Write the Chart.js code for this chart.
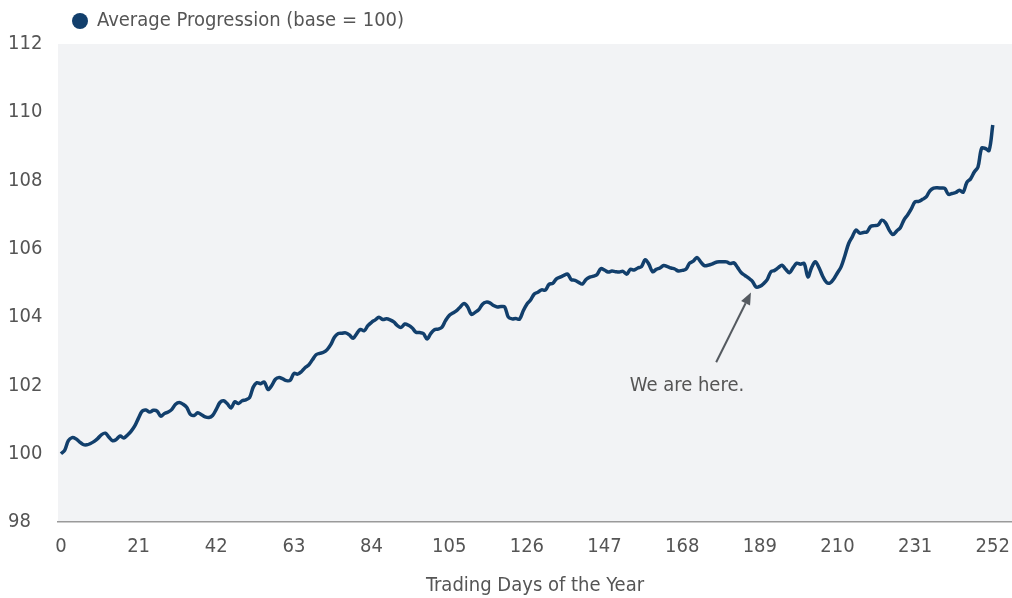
<!DOCTYPE html>
<html><head><meta charset="utf-8">
<script src="https://cdn.jsdelivr.net/npm/chart.js@4.4.1/dist/chart.umd.min.js"></script>
<style>html,body{margin:0;padding:0;background:#fff}#wrap{width:1012px;height:598px;position:relative}</style>
</head><body><div id="wrap"><canvas id="c" width="1012" height="598"></canvas></div>
<script>
const seriesLabel = "Average Progression (base = 100)";
const xTickLabels = [0,21,42,63,84,105,126,147,168,189,210,231,252];
const yTickLabels = [98,100,102,104,106,108,110,112];
const xTitle = "Trading Days of the Year";
const annotationText = "We are here.";
const progression = [
100.00,100.10,100.38,100.47,100.44,100.35,100.27,100.26,100.30,100.36,
100.45,100.56,100.60,100.48,100.38,100.42,100.52,100.46,100.55,100.66,
100.82,101.05,101.25,101.28,101.22,101.27,101.25,101.10,101.18,101.22,
101.30,101.45,101.50,101.45,101.36,101.15,101.12,101.20,101.14,101.08,
101.06,101.12,101.30,101.50,101.55,101.46,101.34,101.52,101.47,101.55,
101.58,101.64,101.95,102.08,102.05,102.10,101.88,102.00,102.18,102.23,
102.19,102.14,102.15,102.35,102.33,102.40,102.52,102.60,102.75,102.90,
102.94,102.97,103.05,103.20,103.42,103.52,103.53,103.54,103.48,103.38,
103.52,103.64,103.60,103.75,103.85,103.92,104.00,103.93,103.95,103.92,
103.86,103.75,103.70,103.80,103.76,103.68,103.56,103.55,103.52,103.36,
103.52,103.63,103.65,103.70,103.90,104.05,104.12,104.19,104.30,104.40,
104.30,104.08,104.14,104.22,104.38,104.44,104.42,104.34,104.30,104.31,
104.30,104.00,103.95,103.96,103.94,104.18,104.38,104.50,104.68,104.73,
104.80,104.79,104.96,104.99,105.12,105.17,105.22,105.26,105.10,105.08,
105.02,104.97,105.10,105.17,105.20,105.25,105.42,105.38,105.32,105.35,
105.33,105.32,105.34,105.26,105.40,105.38,105.44,105.48,105.68,105.55,
105.33,105.40,105.44,105.51,105.48,105.44,105.41,105.35,105.37,105.40,
105.58,105.64,105.75,105.62,105.51,105.52,105.55,105.60,105.62,105.62,
105.62,105.57,105.59,105.45,105.30,105.22,105.14,105.05,104.88,104.90,
104.98,105.10,105.33,105.37,105.45,105.52,105.40,105.30,105.45,105.58,
105.55,105.57,105.18,105.45,105.62,105.45,105.20,105.02,105.00,105.12,
105.30,105.48,105.80,106.15,106.35,106.55,106.46,106.48,106.50,106.66,
106.68,106.70,106.84,106.76,106.55,106.42,106.52,106.62,106.85,107.00,
107.18,107.38,107.39,107.45,107.52,107.70,107.78,107.79,107.78,107.77,
107.60,107.62,107.65,107.72,107.66,107.95,108.05,108.25,108.40,108.95,
108.94,108.88,109.63];
const annoTip = {x:186.6, y:104.72};
const annoTail = {x:177.2, y:102.68};
const annoTextPos = {x:169.3, y:102.0};

const FONT = '"Liberation Sans Narrow","DejaVu Sans Condensed","Roboto",sans-serif';
const TXT = '#555555';
const NAVY = '#123f6c';

const bgPlugin = {
  id:'bg',
  beforeDraw(chart){
    const {ctx, chartArea:a} = chart;
    ctx.save(); ctx.fillStyle='#f2f3f5';
    ctx.fillRect(a.left, a.top, a.right-a.left, a.bottom-a.top);
    ctx.restore();
  },
  afterDraw(chart){
    const ctx = chart.ctx, xs = chart.scales.x, ys = chart.scales.y;
    ctx.save();
    ctx.fillStyle = NAVY;
    ctx.beginPath(); ctx.arc(80, 21, 8, 0, Math.PI*2); ctx.fill();
    ctx.fillStyle = TXT; ctx.font = '20px '+FONT; ctx.textBaseline='middle'; ctx.textAlign='left';
    ctx.fillText(seriesLabel, 97, 21);
    const tx = xs.getPixelForValue(annoTip.x), ty = ys.getPixelForValue(annoTip.y);
    const sx = xs.getPixelForValue(annoTail.x), sy = ys.getPixelForValue(annoTail.y);
    const ang = Math.atan2(ty-sy, tx-sx);
    const hl = 12, hw = 5;
    const bx = tx - hl*Math.cos(ang), by = ty - hl*Math.sin(ang);
    ctx.strokeStyle = '#555a60'; ctx.lineWidth = 2;
    ctx.beginPath(); ctx.moveTo(sx, sy); ctx.lineTo(bx, by); ctx.stroke();
    ctx.fillStyle = '#555a60';
    ctx.beginPath(); ctx.moveTo(tx, ty);
    ctx.lineTo(bx + hw*Math.sin(ang), by - hw*Math.cos(ang));
    ctx.lineTo(bx - hw*Math.sin(ang), by + hw*Math.cos(ang));
    ctx.closePath(); ctx.fill();
    ctx.fillStyle = TXT; ctx.textAlign='center';
    ctx.fillText(annotationText, xs.getPixelForValue(annoTextPos.x), ys.getPixelForValue(annoTextPos.y));
    ctx.restore();
  }
};

new Chart(document.getElementById('c'), {
  type:'line',
  data:{
    labels: progression.map((v,i)=>i),
    datasets:[{label:seriesLabel, data: progression.map((v,i)=>({x:i,y:v})),
      borderColor:NAVY, borderWidth:3.5, pointRadius:0, tension:0.35, fill:false}]
  },
  options:{
    responsive:false, animation:false,
    layout:{padding:{top:44,left:8,right:0,bottom:0}},
    plugins:{legend:{display:false}, tooltip:{enabled:false}},
    scales:{
      x:{type:'linear', min:-0.8, max:257.2,
        afterBuildTicks(s){ s.ticks = xTickLabels.map(v=>({value:v})); },
        afterFit(s){ s.height = 76; s.paddingLeft = 0; s.paddingRight = 0; },
        grid:{display:false, drawTicks:false},
        border:{display:true, color:'#9a9a9a', width:1.5},
        ticks:{color:TXT, font:{family:FONT, size:20}, padding:13, maxRotation:0, autoSkip:false},
        title:{display:true, text:xTitle, color:TXT, font:{family:FONT, size:20}, padding:{top:6,bottom:0}}
      },
      y:{min:98, max:112,
        afterBuildTicks(s){ s.ticks = yTickLabels.map(v=>({value:v})); },
        afterFit(s){ s.width = 50; s.paddingTop = 0; s.paddingBottom = 0; },
        grid:{display:false, drawTicks:false},
        border:{display:false},
        ticks:{color:TXT, font:{family:FONT, size:20}, crossAlign:'far', padding:8}
      }
    }
  },
  plugins:[bgPlugin]
});
</script></body></html>
